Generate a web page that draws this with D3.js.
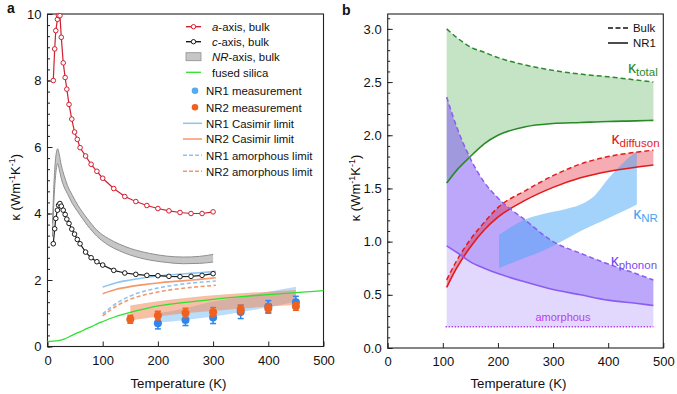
<!DOCTYPE html>
<html>
<head>
<meta charset="utf-8">
<script src="https://cdn.jsdelivr.net/npm/d3@7"></script>
<style>
  body { margin: 0; background: #fff; }
  svg { display: block; font-family: "Liberation Sans", Arial, sans-serif; }
  .tick text { font-size: 13px; fill: #111; }
  .tick line { stroke: #222; }
</style>
</head>
<body>
<div id="chart"></div>
<script>
// ---------- panel a data ----------
var bulkT = [10.5, 13, 15, 18, 20, 22.5, 25, 28.5, 32, 35, 39, 44, 49, 54, 59, 69, 79, 89.5, 100, 120, 140, 160, 180, 200, 220, 240, 260, 280, 300];
var aAxisK = [8.0, 8.95, 9.5, 9.84, 9.95, 9.95, 9.3, 8.53, 8.09, 7.74, 7.28, 6.84, 6.45, 6.23, 5.98, 5.73, 5.48, 5.27, 5.06, 4.75, 4.51, 4.36, 4.24, 4.15, 4.08, 4.03, 4.0, 4.0, 4.05];
var cAxisK = [3.09, 3.54, 3.85, 4.10, 4.25, 4.30, 4.22, 4.10, 3.97, 3.83, 3.70, 3.53, 3.38, 3.22, 3.09, 2.84, 2.67, 2.55, 2.45, 2.29, 2.21, 2.17, 2.14, 2.13, 2.11, 2.10, 2.11, 2.14, 2.19];

var nrAxisT = [9, 12, 15, 18.5, 21, 25, 30, 36, 45, 55, 72, 90, 110, 130, 150, 185, 215, 246, 275, 300];
var nrAxisLo = [3.3, 4.5, 5.2, 5.5, 5.35, 5.05, 4.8, 4.6, 4.3, 4.05, 3.65, 3.31, 3.05, 2.88, 2.75, 2.6, 2.53, 2.49, 2.5, 2.54];
var nrAxisHi = [3.7, 5.0, 5.7, 5.95, 5.8, 5.45, 5.15, 4.85, 4.55, 4.25, 3.85, 3.49, 3.25, 3.08, 2.95, 2.8, 2.72, 2.69, 2.71, 2.77];

var silicaT = [0, 10, 20, 30, 40, 50, 60, 70, 80, 90, 100, 120, 140, 160, 180, 200, 250, 300, 350, 400, 450, 500];
var silicaK = [0.15, 0.16, 0.18, 0.22, 0.3, 0.38, 0.45, 0.53, 0.6, 0.68, 0.75, 0.88, 0.98, 1.07, 1.15, 1.22, 1.33, 1.42, 1.5, 1.56, 1.62, 1.68];

var limitT = [100, 125, 150, 175, 200, 225, 250, 275, 305];
var nr1Casimir = [1.79, 1.92, 2.0, 2.07, 2.12, 2.16, 2.19, 2.22, 2.26];
var nr2Casimir = [1.59, 1.72, 1.80, 1.86, 1.91, 1.95, 1.98, 2.02, 2.07];
var nr1Amorph = [0.98, 1.3, 1.52, 1.66, 1.76, 1.83, 1.89, 1.93, 1.97];
var nr2Amorph = [0.92, 1.22, 1.42, 1.55, 1.64, 1.71, 1.76, 1.80, 1.84];

var nr1T = [200, 250, 300, 350, 400, 450];
var nr1K = [0.70, 0.80, 0.87, 1.04, 1.20, 1.33];
var nr1Err = [0.17, 0.17, 0.18, 0.2, 0.18, 0.18];
var nr1BandLo = [0.72, 0.80, 0.90, 1.03, 1.18, 1.35];
var nr1BandHi = [1.0, 1.15, 1.35, 1.5, 1.65, 1.80];

var nr2T = [150, 200, 250, 300, 350, 400, 450];
var nr2K = [0.82, 0.93, 1.01, 1.03, 1.11, 1.14, 1.21];
var nr2Err = [0.12, 0.13, 0.14, 0.14, 0.13, 0.14, 0.12];
var nr2BandLo = [0.78, 0.9, 1.0, 1.07, 1.14, 1.2, 1.25];
var nr2BandHi = [1.23, 1.36, 1.46, 1.54, 1.6, 1.65, 1.70];

// ---------- panel b data ----------
var modelT = [107, 125, 150, 175, 200, 250, 300, 350, 400, 450, 482];
var totalBulk = [3.0, 2.92, 2.83, 2.78, 2.73, 2.66, 2.61, 2.575, 2.55, 2.52, 2.50];
var totalNR1 = [1.55, 1.67, 1.80, 1.92, 2.0, 2.08, 2.11, 2.12, 2.13, 2.135, 2.14];
var diffBulk = [0.64, 0.82, 1.02, 1.18, 1.32, 1.48, 1.62, 1.73, 1.80, 1.84, 1.86];
var diffNR1 = [0.57, 0.75, 0.95, 1.11, 1.23, 1.39, 1.51, 1.60, 1.66, 1.70, 1.72];
var phonBulk = [2.36, 2.08, 1.78, 1.56, 1.41, 1.20, 1.0, 0.89, 0.79, 0.70, 0.64];
var phonNR1 = [0.96, 0.90, 0.81, 0.75, 0.70, 0.62, 0.55, 0.50, 0.45, 0.42, 0.40];
var amorphT = [105, 482];
var amorphK = [0.2, 0.2];

var nrBandT = [202, 225, 250, 275, 300, 325, 350, 375, 400, 425, 452];
var nrBandLo = [0.75, 0.80, 0.85, 0.90, 0.96, 1.03, 1.10, 1.16, 1.22, 1.28, 1.35];
var nrBandHi = [1.065, 1.14, 1.21, 1.25, 1.28, 1.31, 1.35, 1.43, 1.59, 1.73, 1.85];

var xTicks = [0, 100, 200, 300, 400, 500];

function zip(xs, ys) { return xs.map(function(x, i) { return [x, ys[i]]; }); }
function zip3(xs, lo, hi) { return xs.map(function(x, i) { return [x, lo[i], hi[i]]; }); }

var svg = d3.select("#chart").append("svg").attr("width", 677).attr("height", 394);

// draws frame, ticks and titles for one panel
function drawFrame(g, x, y, yTicks, yMinor, yFmt, letter, letterX, letterY) {
  var x0 = x.range()[0], x1 = x.range()[1], y0 = y.range()[0], y1 = y.range()[1];

  g.append("g").attr("transform", "translate(0," + y0 + ")")
    .call(d3.axisBottom(x).tickValues(xTicks).tickSize(-5).tickPadding(9))
    .call(function(s) { s.select(".domain").remove(); });
  g.append("g").attr("transform", "translate(" + x0 + ",0)")
    .call(d3.axisLeft(y).tickValues(yMinor).tickSize(-2.5).tickFormat(""))
    .call(function(s) { s.select(".domain").remove(); });
  g.append("g").attr("transform", "translate(" + x0 + ",0)")
    .call(d3.axisLeft(y).tickValues(yTicks).tickSize(-5).tickPadding(6).tickFormat(yFmt))
    .call(function(s) { s.select(".domain").remove(); });

  g.append("rect")
    .attr("x", x0).attr("y", y1)
    .attr("width", x1 - x0).attr("height", y0 - y1)
    .attr("fill", "none").attr("stroke", "#222").attr("stroke-width", 1.1);

  g.append("text")
    .attr("x", (x0 + x1) / 2 - 7).attr("y", 388)
    .attr("text-anchor", "middle").attr("font-size", 13.3).attr("fill", "#111")
    .text("Temperature (K)");

  var yt = g.append("text")
    .attr("transform", "translate(" + (x0 - 27.5) + "," + ((y0 + y1) / 2 + 7) + ") rotate(-90)")
    .attr("text-anchor", "middle").attr("font-size", 13).attr("fill", "#111");
  yt.append("tspan").text("κ (Wm");
  yt.append("tspan").attr("font-size", 9).attr("dy", -5).text("-1");
  yt.append("tspan").attr("dy", 5).text("K");
  yt.append("tspan").attr("font-size", 9).attr("dy", -5).text("-1");
  yt.append("tspan").attr("dy", 5).text(")");

  g.append("text").attr("x", letterX).attr("y", letterY)
    .attr("font-size", 14).attr("font-weight", "bold").attr("fill", "#111").text(letter);
}

// ================= panel a =================
var xa = d3.scaleLinear().domain([0, 500]).range([47.5, 323.5]);
var ya = d3.scaleLinear().domain([0, 10]).range([346.5, 14]);
var ga = svg.append("g");

var lineA = d3.line().x(function(d) { return xa(d[0]); }).y(function(d) { return ya(d[1]); });
var smoothA = d3.line().curve(d3.curveMonotoneX).x(function(d) { return xa(d[0]); }).y(function(d) { return ya(d[1]); });
var areaA = d3.area().curve(d3.curveMonotoneX)
  .x(function(d) { return xa(d[0]); })
  .y0(function(d) { return ya(d[1]); })
  .y1(function(d) { return ya(d[2]); });

var yMinorA = d3.range(0, 31).map(function(i) { return i / 3; });
drawFrame(ga, xa, ya, [0, 2, 4, 6, 8, 10], yMinorA, d3.format("d"), "a", 7, 13);

// measurement bands
ga.append("path").datum(zip3(nr1T, nr1BandLo, nr1BandHi))
  .attr("d", areaA).attr("fill", "#a9d4f7").attr("opacity", 0.8);
ga.append("path").datum(zip3(nr2T, nr2BandLo, nr2BandHi))
  .attr("d", areaA).attr("fill", "#f08a5c").attr("opacity", 0.55);

// NR-axis grey band
ga.append("path").datum(zip3(nrAxisT, nrAxisLo, nrAxisHi)).attr("d", areaA).attr("fill", "#c6c6c6");
ga.append("path").datum(zip(nrAxisT, nrAxisLo)).attr("d", smoothA)
  .attr("fill", "none").attr("stroke", "#8f8f8f").attr("stroke-width", 1);
ga.append("path").datum(zip(nrAxisT, nrAxisHi)).attr("d", smoothA)
  .attr("fill", "none").attr("stroke", "#8f8f8f").attr("stroke-width", 1);

// limits
[[nr1Casimir, "#8cc4f2", null], [nr2Casimir, "#f4976a", null],
 [nr1Amorph, "#8cc4f2", "4,2.5"], [nr2Amorph, "#f4976a", "4,2.5"]].forEach(function(s) {
  ga.append("path").datum(zip(limitT, s[0])).attr("d", smoothA)
    .attr("fill", "none").attr("stroke", s[1]).attr("stroke-width", 1.6)
    .attr("stroke-dasharray", s[2]);
});

// fused silica
ga.append("path").datum(zip(silicaT, silicaK)).attr("d", smoothA)
  .attr("fill", "none").attr("stroke", "#2fe02f").attr("stroke-width", 1.3);

// bulk series with open markers
function markerSeries(ts, ks, color) {
  var pts = zip(ts, ks);
  ga.append("path").datum(pts).attr("d", lineA)
    .attr("fill", "none").attr("stroke", color).attr("stroke-width", 1.2);
  ga.append("g").selectAll("circle").data(pts).enter().append("circle")
    .attr("cx", function(d) { return xa(d[0]); })
    .attr("cy", function(d) { return ya(d[1]); })
    .attr("r", 2.3).attr("fill", "#fff").attr("stroke", color).attr("stroke-width", 1);
}
markerSeries(bulkT, aAxisK, "#d21f2f");
markerSeries(bulkT, cAxisK, "#1a1a1a");

// measurements with error bars
function measured(ts, ks, errs, color) {
  var g = ga.append("g");
  var pts = ts.map(function(t, i) { return {t: t, k: ks[i], e: errs[i]}; });
  var eb = g.selectAll("g").data(pts).enter().append("g")
    .attr("stroke", color).attr("stroke-width", 1.5);
  eb.append("line")
    .attr("x1", function(d) { return xa(d.t); }).attr("x2", function(d) { return xa(d.t); })
    .attr("y1", function(d) { return ya(d.k - d.e); }).attr("y2", function(d) { return ya(d.k + d.e); });
  [-1, 1].forEach(function(sg) {
    eb.append("line")
      .attr("x1", function(d) { return xa(d.t) - 3; }).attr("x2", function(d) { return xa(d.t) + 3; })
      .attr("y1", function(d) { return ya(d.k + sg * d.e); }).attr("y2", function(d) { return ya(d.k + sg * d.e); });
  });
  g.selectAll("circle").data(pts).enter().append("circle")
    .attr("cx", function(d) { return xa(d.t); })
    .attr("cy", function(d) { return ya(d.k); })
    .attr("r", 4).attr("fill", color);
}
measured(nr1T, nr1K, nr1Err, "#2f86ec");
measured(nr2T, nr2K, nr2Err, "#f0611f");

// legend a
var legA = ga.append("g").attr("font-size", 11.4).attr("fill", "#111");
var legRows = [
  {y: 26.7, type: "marker", color: "#d21f2f", label: ["a", "-axis, bulk"]},
  {y: 41.7, type: "marker", color: "#1a1a1a", label: ["c", "-axis, bulk"]},
  {y: 56.7, type: "band", label: ["NR", "-axis, bulk"]},
  {y: 72.3, type: "line", color: "#2fe02f", label: ["", "fused silica"]},
  {y: 90.7, type: "dot", color: "#55aaf0", label: ["", "NR1 measurement"]},
  {y: 107.3, type: "dot", color: "#f0611f", label: ["", "NR2 measurement"]},
  {y: 123.3, type: "line2", color: "#8cc4f2", label: ["", "NR1 Casimir limit"]},
  {y: 139, type: "line2", color: "#f4976a", label: ["", "NR2 Casimir limit"]},
  {y: 155.3, type: "dash", color: "#8cc4f2", label: ["", "NR1 amorphous limit"]},
  {y: 171.3, type: "dash", color: "#f4976a", label: ["", "NR2 amorphous limit"]}
];
legRows.forEach(function(r) {
  var tx = 212;
  if (r.type === "marker") {
    legA.append("line").attr("x1", 186).attr("x2", 201).attr("y1", r.y).attr("y2", r.y)
      .attr("stroke", r.color).attr("stroke-width", 1.4);
    legA.append("circle").attr("cx", 193.5).attr("cy", r.y).attr("r", 2.2)
      .attr("fill", "#fff").attr("stroke", r.color);
  } else if (r.type === "band") {
    legA.append("rect").attr("x", 186).attr("y", r.y - 4).attr("width", 15).attr("height", 8)
      .attr("fill", "#c6c6c6").attr("stroke", "#8f8f8f").attr("stroke-width", 0.8);
  } else if (r.type === "line") {
    legA.append("line").attr("x1", 186).attr("x2", 201).attr("y1", r.y).attr("y2", r.y)
      .attr("stroke", r.color).attr("stroke-width", 1.3);
  } else if (r.type === "dot") {
    legA.append("circle").attr("cx", 195).attr("cy", r.y).attr("r", 3.3).attr("fill", r.color);
    tx = 206;
  } else {
    legA.append("line").attr("x1", 183).attr("x2", 202).attr("y1", r.y).attr("y2", r.y)
      .attr("stroke", r.color).attr("stroke-width", 1.5)
      .attr("stroke-dasharray", r.type === "dash" ? "4,2" : null);
    tx = 206;
  }
  var t = legA.append("text").attr("x", tx).attr("y", r.y + 4.2);
  if (r.label[0]) t.append("tspan").attr("font-style", "italic").text(r.label[0]);
  t.append("tspan").text(r.label[1]);
});

// ================= panel b =================
var xb = d3.scaleLinear().domain([0, 500]).range([387.7, 663.3]);
var yb = d3.scaleLinear().domain([0, 3.14]).range([348, 14]);
var gb = svg.append("g");

var smoothB = d3.line().curve(d3.curveMonotoneX).x(function(d) { return xb(d[0]); }).y(function(d) { return yb(d[1]); });
var areaB = d3.area().curve(d3.curveMonotoneX)
  .x(function(d) { return xb(d[0]); })
  .y0(function(d) { return yb(d[1]); })
  .y1(function(d) { return yb(d[2]); });

var yMinorB = d3.range(0, 32).map(function(i) { return i / 10; });
drawFrame(gb, xb, yb, [0, 0.5, 1, 1.5, 2, 2.5, 3], yMinorB, d3.format(".1f"), "b", 342, 15);

// fills
var amorphFloor = modelT.map(function() { return amorphK[0]; });
gb.append("path").datum(zip3(modelT, totalNR1, totalBulk)).attr("d", areaB)
  .attr("fill", "#3fa33f").attr("opacity", 0.3);
gb.append("path").datum(zip3(modelT, amorphFloor, phonNR1))
  .attr("d", areaB).attr("fill", "#7b4ff5").attr("opacity", 0.22);
gb.append("path").datum(zip3(modelT, phonNR1, phonBulk)).attr("d", areaB)
  .attr("fill", "#7b4ff5").attr("opacity", 0.5);
gb.append("path").datum(zip3(modelT, diffNR1, diffBulk)).attr("d", areaB)
  .attr("fill", "#e31a2c").attr("opacity", 0.36);
gb.append("path").datum(zip3(nrBandT, nrBandLo, nrBandHi)).attr("d", areaB)
  .attr("fill", "#47a6f5").attr("opacity", 0.5);

// lines
[[totalBulk, "#2a8a2a", "5,3"], [totalNR1, "#2a8a2a", null],
 [diffBulk, "#e31a1c", "5,3"], [diffNR1, "#e31a1c", null],
 [phonBulk, "#8a5cf2", "5,3"], [phonNR1, "#8a5cf2", null]].forEach(function(s) {
  gb.append("path").datum(zip(modelT, s[0])).attr("d", smoothB)
    .attr("fill", "none").attr("stroke", s[1]).attr("stroke-width", s[2] ? 1.5 : 1.6)
    .attr("stroke-dasharray", s[2]);
});
gb.append("path").datum(zip(amorphT, amorphK)).attr("d", smoothB)
  .attr("fill", "none").attr("stroke", "#b33ff0").attr("stroke-width", 1.6)
  .attr("stroke-dasharray", "1.5,1.5");

// curve labels
function kLabel(t, k, sub, color) {
  var txt = gb.append("text").attr("x", xb(t)).attr("y", yb(k)).attr("fill", color);
  txt.append("tspan").attr("font-size", 16).text("κ");
  txt.append("tspan").attr("font-size", 11.5).attr("dy", 3).text(sub);
}
kLabel(436, 2.59, "total", "#2a8a2a");
kLabel(406, 1.92, "diffuson", "#e31a1c");
kLabel(445.6, 1.21, "NR", "#4aa3f0");
kLabel(404.5, 0.77, "phonon", "#7a4cf0");
gb.append("text").attr("x", xb(318)).attr("y", yb(0.25))
  .attr("text-anchor", "middle").attr("font-size", 11).attr("fill", "#b33ff0").text("amorphous");

// legend b
var legB = gb.append("g").attr("font-size", 11.4).attr("fill", "#111");
legB.append("line").attr("x1", 608).attr("x2", 628).attr("y1", 28).attr("y2", 28)
  .attr("stroke", "#111").attr("stroke-width", 1.5).attr("stroke-dasharray", "5,2.5");
legB.append("text").attr("x", 633).attr("y", 32).text("Bulk");
legB.append("line").attr("x1", 608).attr("x2", 628).attr("y1", 43).attr("y2", 43)
  .attr("stroke", "#111").attr("stroke-width", 1.5);
legB.append("text").attr("x", 633).attr("y", 47).text("NR1");
</script>
</body>
</html>
